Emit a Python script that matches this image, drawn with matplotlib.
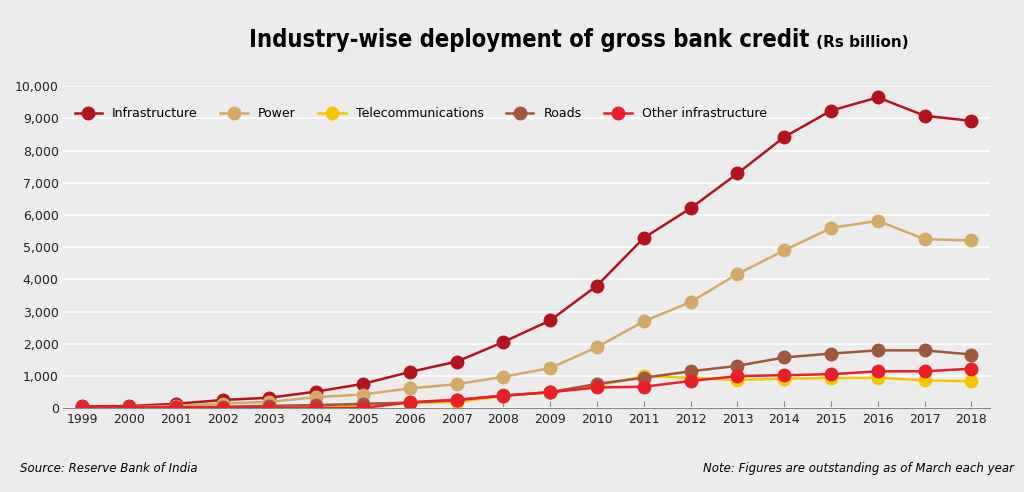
import matplotlib
matplotlib.use("Agg")
import matplotlib.pyplot as plt
from matplotlib.ticker import FuncFormatter

years = list(range(1999, 2019))
infrastructure = [60, 70, 140, 260, 330, 520, 760, 1130, 1450, 2060, 2730, 3810, 5290, 6210, 7290, 8420, 9240, 9650, 9080, 8920]
power = [30, 40, 80, 150, 200, 350, 430, 620, 750, 980, 1250, 1900, 2700, 3300, 4170, 4900, 5600, 5820, 5250, 5210]
telecom = [0, 0, 30, 40, 50, 60, 80, 170, 200, 380, 520, 700, 1000, 950, 880, 920, 940, 950, 870, 840]
roads = [0, 0, 30, 50, 80, 100, 140, 180, 250, 400, 500, 760, 950, 1150, 1320, 1580, 1700, 1800, 1800, 1670]
other = [50, 40, 40, 20, 20, 10, 10, 190, 270, 390, 500, 650, 670, 850, 1000, 1030, 1060, 1150, 1150, 1230]

series = [
    ("Infrastructure", infrastructure, "#b3141c"),
    ("Power", power, "#d4aa6a"),
    ("Telecommunications", telecom, "#f7c600"),
    ("Roads", roads, "#a0583c"),
    ("Other infrastructure", other, "#e8202a"),
]

bg = "#ececec"
fig = plt.figure(figsize=(10.24, 4.92), dpi=100, facecolor=bg)
ax = fig.add_axes([0.062, 0.17, 0.905, 0.655], facecolor=bg)

for name, vals, col in series:
    ax.plot(years, vals, color=col, lw=1.8, marker="o", ms=9, label=name)

ax.set_ylim(0, 10000)
ax.set_xlim(1998.6, 2018.4)
ax.set_yticks(range(0, 10001, 1000))
ax.yaxis.set_major_formatter(FuncFormatter(lambda v, p: f"{int(v):,}"))
ax.set_xticks(years)
ax.tick_params(labelsize=9, colors="#222222", length=0)
ax.tick_params(axis="x", length=5, color="#888888", direction="in")
ax.grid(axis="y", color="white", lw=1.2)
ax.set_axisbelow(True)
for s in ["top", "right", "left"]:
    ax.spines[s].set_visible(False)
ax.spines["bottom"].set_color("#888888")

ax.legend(loc="upper left", bbox_to_anchor=(0.0, 0.97), ncol=5, frameon=False,
          fontsize=9, handlelength=2.2, columnspacing=1.8)

fig.text(0.79, 0.905, "Industry-wise deployment of gross bank credit", ha="right",
         fontsize=17, fontweight="bold", fontstretch="condensed")
fig.text(0.792, 0.905, " (Rs billion)", ha="left", fontsize=11, fontweight="bold")
fig.text(0.02, 0.04, "Source: Reserve Bank of India", fontsize=8.5, style="italic")
fig.text(0.99, 0.04, "Note: Figures are outstanding as of March each year", fontsize=8.5,
         style="italic", ha="right")

fig.savefig("out.png", dpi=100, facecolor=bg)
